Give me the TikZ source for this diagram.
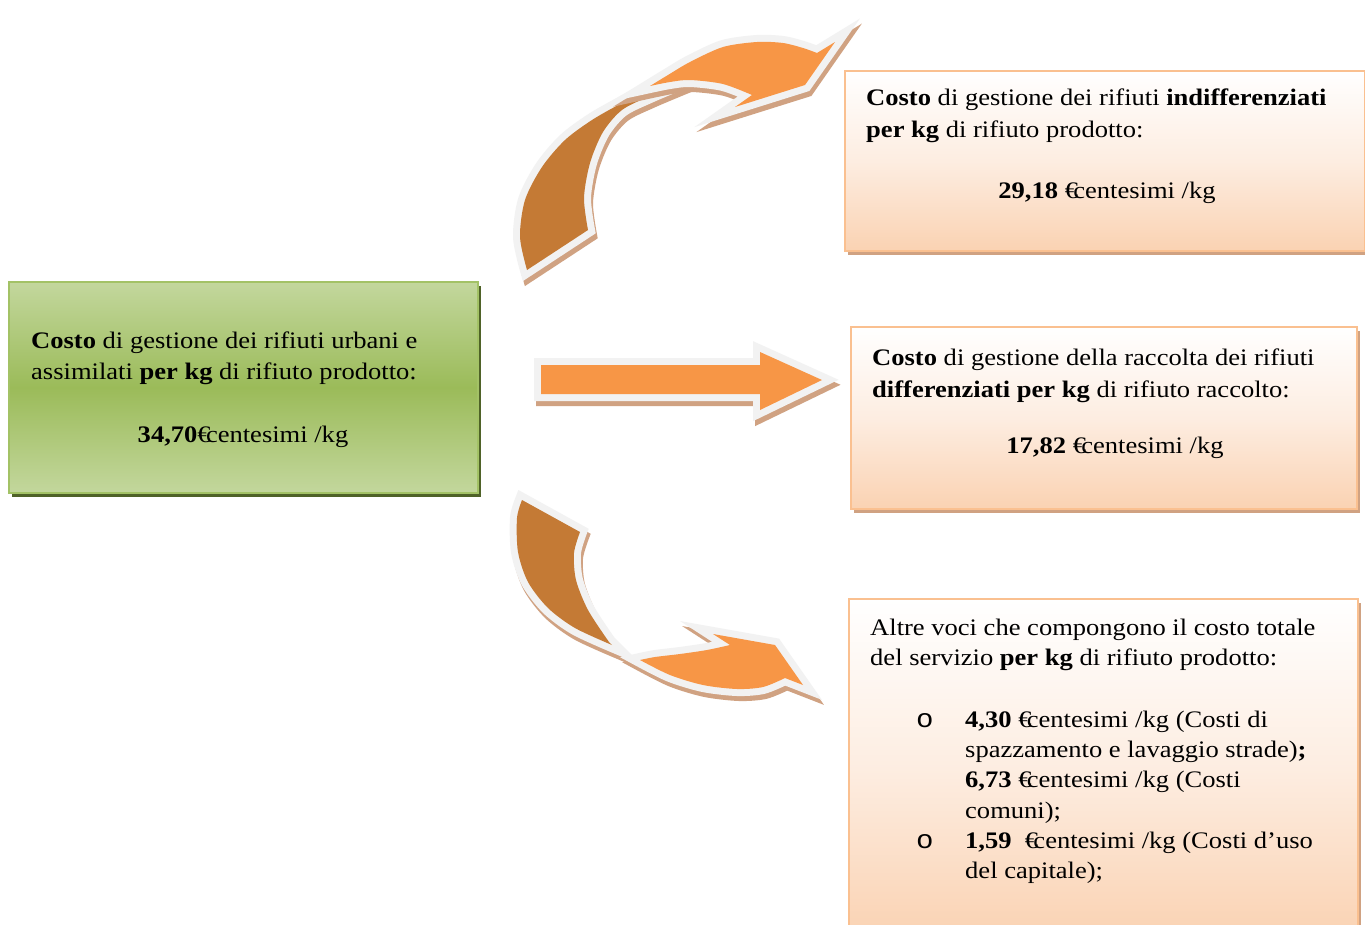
\documentclass[tikz,border=0pt]{standalone}
\usepackage{fontspec}
\setmainfont[FakeStretch=1.12,Ligatures=NoCommon]{Liberation Serif}
\newfontfamily\bulletfont[FakeStretch=1.12]{Liberation Mono}
\newcommand\myeur{€\kern-0.2em}
\definecolor{gLight}{HTML}{C3D79D}
\definecolor{gMid}{HTML}{9BBB59}
\definecolor{gBorder}{HTML}{A3C266}
\definecolor{gShadow}{HTML}{4F6228}
\definecolor{oBorder}{HTML}{FAC090}
\definecolor{oDark}{HTML}{FAD2B2}
\definecolor{oMid}{HTML}{FDEDE1}
\definecolor{oShadow}{HTML}{D0A282}
\definecolor{arrOrange}{HTML}{F79646}
\definecolor{arrBrown}{HTML}{C47A35}
\definecolor{arrGrey}{HTML}{F2F2F2}
\definecolor{arrShadow}{HTML}{D0A282}
\newcommand\pathStraight{(541,365) -- (760,365) -- (760,352) -- (822,380) -- (760,410) -- (760,394) -- (541,394) -- cycle}
\newcommand\pathTopBrown{plot[smooth] coordinates {(527,270) (520,237) (525,200) (542,167) (565,140) (592,120) (620,104) (650,88) (680,74)} -- plot[smooth] coordinates {(688,80) (650,96) (622,110) (603,132) (590,163) (584,198) (588,230)} -- cycle}
\newcommand\pathTopOrange{plot[smooth] coordinates {(650,86) (668,75) (690,62) (723,47) (757,42) (783,43) (803,48) (817,53)} -- (835,42) -- (805,85) -- (735,107) -- plot[smooth] coordinates {(752,95) (723,84) (690,80) (670,82) (650,86)} -- cycle}
\newcommand\pathBotBrown{plot[smooth] coordinates {(522,500) (517,518) (518,552) (528,582) (548,608) (575,628) (612,645)} -- plot[smooth] coordinates {(609,642) (588,610) (576,580) (574,553) (580,532)} -- cycle}
\newcommand\pathBotOrange{plot[smooth] coordinates {(640,660) (670,675) (703,685) (737,689) (763,687) (785,678)} -- (803,685) -- (775,645) -- (713,634) -- plot[smooth] coordinates {(730,645) (707,650) (680,654) (655,657) (640,660)} -- cycle}
\begin{document}
\begin{tikzpicture}[x=1pt,y=-1pt,
  txt/.style={inner sep=0pt, anchor=base west, font=\fontsize{23.7}{31}\selectfont},
  ctxt/.style={txt, anchor=base},
  blt/.style={inner sep=0pt, anchor=base west, font=\bulletfont\fontsize{26}{31}\selectfont},
  gbox/.style={draw=gBorder, line width=2.2pt, top color=gLight, bottom color=gLight, middle color=gMid, anchor=north west, inner sep=0pt},
  obox/.style={draw=oBorder, line width=2.2pt, top color=white, bottom color=oDark, middle color=oMid, anchor=north west, inner sep=0pt},
  gshad/.style={fill=gShadow, anchor=north west, inner sep=0pt},
  oshad/.style={fill=oShadow, anchor=north west, inner sep=0pt},
  arrshadow/.style={fill=arrShadow, draw=arrShadow, line width=14pt, line join=miter},
  arroutline/.style={draw=arrGrey, line width=14pt, line join=miter},
]
\useasboundingbox (0,0) rectangle (1365,924);
\fill[white] (0,0) rectangle (1365,924);
\clip (0,0) rectangle (1365,924);

% ---------- arrows ----------
% straight
\begin{scope}[shift={(2,5)}]\path[arrshadow] \pathStraight;\end{scope}
\path[arroutline] \pathStraight;
\fill[arrOrange] \pathStraight;
% top curved
\begin{scope}[shift={(2,5)}]\path[arrshadow] \pathTopBrown;\end{scope}
\path[arroutline] \pathTopBrown;
\fill[arrBrown] \pathTopBrown;
\begin{scope}[shift={(2,5)}]\path[arrshadow] \pathTopOrange;\end{scope}
\path[arroutline] \pathTopOrange;
\fill[arrOrange] \pathTopOrange;
% bottom curved
\begin{scope}[shift={(2,5)}]\path[arrshadow] \pathBotBrown;\end{scope}
\path[arroutline] \pathBotBrown;
\fill[arrBrown] \pathBotBrown;
\begin{scope}[shift={(2,5)}]\path[arrshadow] \pathBotOrange;\end{scope}
\path[arroutline] \pathBotOrange;
\fill[arrOrange] \pathBotOrange;

% ---------- boxes ----------
\node[gshad, minimum width=469, minimum height=211] (b1s) at (12,286) {};
\node[gbox, minimum width=469, minimum height=211] (b1) at (8,281) {};
\node[oshad, minimum width=520, minimum height=180] (b2s) at (848,75) {};
\node[obox, minimum width=520, minimum height=180] (b2) at (844,70) {};
\node[oshad, minimum width=506, minimum height=182] (b3s) at (854,331) {};
\node[obox, minimum width=506, minimum height=182] (b3) at (850,326) {};
\node[oshad, minimum width=509, minimum height=340] (b4s) at (852,603) {};
\node[obox, minimum width=509, minimum height=340] (b4) at (848,598) {};

% ---------- texts ----------
\node[txt] (t1a) at (31,348) {\textbf{Costo} di gestione dei rifiuti urbani e};
\node[txt] (t1b) at (31,379) {assimilati \textbf{per kg} di rifiuto prodotto:};
\node[ctxt] (t1c) at (243,442) {\textbf{34,70}\myeur centesimi /kg};

\node[txt] (t2a) at (866,105) {\textbf{Costo} di gestione dei rifiuti \textbf{indifferenziati}};
\node[txt] (t2b) at (866,137) {\textbf{per kg} di rifiuto prodotto:};
\node[ctxt] (t2c) at (1107,198) {\textbf{29,18} \myeur centesimi /kg};

\node[txt] (t3a) at (872,365) {\textbf{Costo} di gestione della raccolta dei rifiuti};
\node[txt] (t3b) at (872,397) {\textbf{differenziati per kg} di rifiuto raccolto:};
\node[ctxt] (t3c) at (1115,453) {\textbf{17,82} \myeur centesimi /kg};

\node[txt] (t4a) at (870,635) {Altre voci che compongono il costo totale};
\node[txt] (t4b) at (870,665) {del servizio \textbf{per kg} di rifiuto prodotto:};
\node[blt] (o1) at (916,727) {o};
\node[blt] (o2) at (916,848) {o};
\node[txt] (t4c) at (965,727) {\textbf{4,30} \myeur centesimi /kg (Costi di};
\node[txt] (t4d) at (965,757) {spazzamento e lavaggio strade)\textbf{;}};
\node[txt] (t4e) at (965,787) {\textbf{6,73} \myeur centesimi /kg (Costi};
\node[txt] (t4f) at (965,818) {comuni);};
\node[txt] (t4g) at (965,848) {\textbf{1,59}\ \ \myeur centesimi /kg (Costi d’uso};
\node[txt] (t4h) at (965,878) {del capitale);};
\end{tikzpicture}
\end{document}
